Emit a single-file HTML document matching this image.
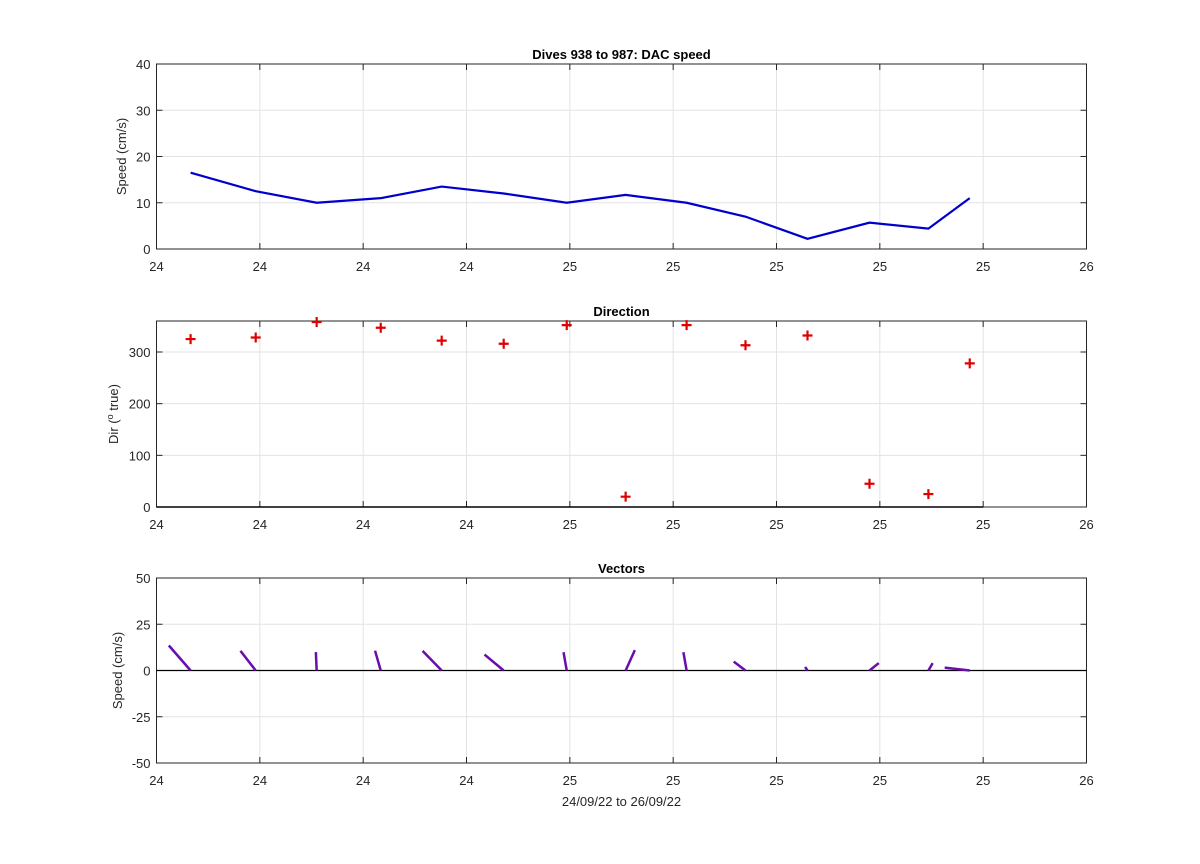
<!DOCTYPE html>
<html><head><meta charset="utf-8"><style>
body{margin:0;background:#fff;}
svg text{font-family:"Liberation Sans",Arial,sans-serif;fill:#262626;}
</style></head><body>
<svg id="chart" width="1200" height="859" xmlns="http://www.w3.org/2000/svg"></svg>
<script>
const times=[0.33,0.96,1.55,2.17,2.76,3.36,3.97,4.54,5.13,5.70,6.30,6.90,7.47,7.87];
const speeds=[16.5,12.5,10,11,13.5,12,10,11.7,10,7,2.2,5.7,4.4,11];
const dirs=[325,328,358,347,322,316,352,20,352,313,332,45,25,278];
const xTickLabels=["24","24","24","24","25","25","25","25","25","26"];
const speedTicks=[0,10,20,30,40];
const dirTicks=[0,100,200,300];
const vecTicks=[-50,-25,0,25,50];

const svg=document.getElementById('chart');
const NS='http://www.w3.org/2000/svg';
function mk(tag,attrs,name,parent){const e=document.createElementNS(NS,tag);for(const k in attrs)e.setAttribute(k,attrs[k]);


(parent||svg).appendChild(e);return e;}
const X0=156.5,X1=1086.5;
const xs=t=>X0+t*(X1-X0)/9;

function panel(name,top,bot,ymin,ymax,yticks,title,ylabel,opts){
 const g=mk('g',{},name);
 const ys=v=>bot-(v-ymin)/(ymax-ymin)*(bot-top);
 for(let i=0;i<=9;i++){const x=xs(i);
  mk('line',{x1:x,x2:x,y1:top,y2:bot,stroke:'#e3e3e3','stroke-width':1},'x-grid-line',g);}
 yticks.forEach(v=>{const y=ys(v);
  mk('line',{x1:X0,x2:X1,y1:y,y2:y,stroke:'#e3e3e3','stroke-width':1},'y-grid-line',g);});
 mk('rect',{x:X0,y:top,width:X1-X0,height:bot-top,fill:'none',stroke:'#262626','stroke-width':1},'axes-box',g);
 for(let i=0;i<=9;i++){const x=xs(i);
  mk('line',{x1:x,x2:x,y1:bot,y2:bot-6,stroke:'#262626'},'x-tick',g);
  mk('line',{x1:x,x2:x,y1:top,y2:top+6,stroke:'#262626'},'x-tick',g);
  const t=mk('text',{x:x,y:bot+22,'text-anchor':'middle','font-size':13},'x-tick-label',g);t.textContent=xTickLabels[i];}
 yticks.forEach(v=>{const y=ys(v);
  mk('line',{x1:X0,x2:X0+6,y1:y,y2:y,stroke:'#262626'},'y-tick',g);
  mk('line',{x1:X1,x2:X1-6,y1:y,y2:y,stroke:'#262626'},'y-tick',g);
  const t=mk('text',{x:X0-6,y:y+5,'text-anchor':'end','font-size':13},'y-tick-label',g);t.textContent=v;});
 const tt=mk('text',{x:(X0+X1)/2,y:top-5,'text-anchor':'middle','font-size':13,'font-weight':'bold',style:'fill:#000'},'panel-title',g);tt.textContent=title;
 const yl=mk('text',{x:0,y:0,'text-anchor':'middle','font-size':13,transform:`translate(${opts.ylx},${(top+bot)/2}) rotate(-90)`},'y-axis-title',g);yl.innerHTML=ylabel;
 return {g,ys};
}
// Panel 1
const p1=panel('speed-panel',64,249,0,40,speedTicks,'Dives 938 to 987: DAC speed','Speed (cm/s)',{ylx:126});
mk('polyline',{points:times.map((t,i)=>xs(t)+','+p1.ys(speeds[i])).join(' '),fill:'none',stroke:'#0000cd','stroke-width':2.2},'speed-line',p1.g);
// Panel 2
const p2=panel('direction-panel',321,507,0,360,dirTicks,'Direction','Dir (<tspan baseline-shift="super" font-size="9">o</tspan> true)',{ylx:118});
mk('line',{x1:X0,x2:xs(8),y1:507,y2:507,stroke:'#000','stroke-width':1.5},'direction-baseline',p2.g);
times.forEach((t,i)=>{const x=xs(t),y=p2.ys(dirs[i]);
 mk('path',{d:`M${x-5},${y}H${x+5}M${x},${y-5}V${y+5}`,stroke:'#e00000','stroke-width':2.2},'direction-marker',p2.g);});
// Panel 3
const p3=panel('vectors-panel',578,763,-50,50,vecTicks,'Vectors','Speed (cm/s)',{ylx:122});
mk('line',{x1:X0,x2:X1,y1:p3.ys(0),y2:p3.ys(0),stroke:'#000','stroke-width':1.3},'zero-line',p3.g);
const uScale=2.3;
times.forEach((t,i)=>{const r=dirs[i]*Math.PI/180;const u=speeds[i]*Math.sin(r),v=speeds[i]*Math.cos(r);
 const x=xs(t),y=p3.ys(0);
 mk('line',{x1:x,y1:y,x2:x+u*uScale,y2:p3.ys(v),stroke:'#6a0dad','stroke-width':2.5},'vector-stick',p3.g);});
const xl=mk('text',{x:(X0+X1)/2,y:806,'text-anchor':'middle','font-size':13},'x-axis-title');xl.textContent='24/09/22 to 26/09/22';
</script>
</body></html>
